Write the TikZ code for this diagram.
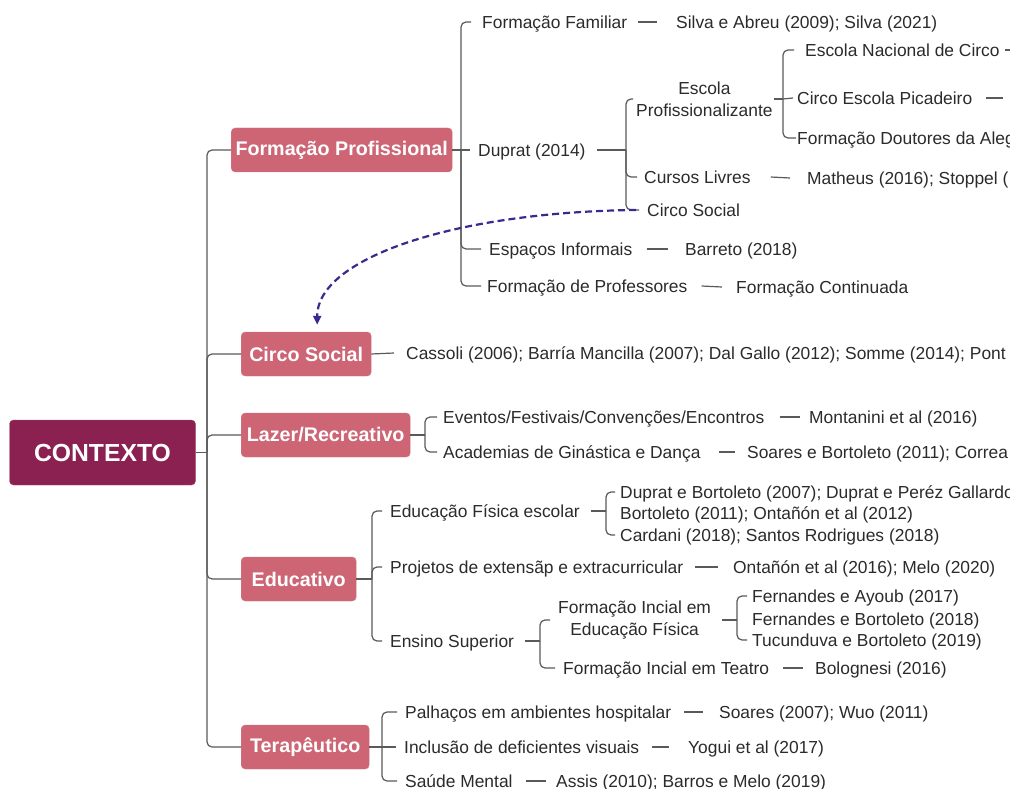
\documentclass[tikz,border=0pt]{standalone}
\usepackage{fontspec}
\setmainfont{Liberation Sans}
\usetikzlibrary{arrows.meta}
\definecolor{rootc}{HTML}{8A2151}
\definecolor{brc}{HTML}{CD6575}
\definecolor{lnc}{HTML}{5A5A5A}
\definecolor{txc}{HTML}{2B2B2B}
\definecolor{arc}{HTML}{3A2A8E}
\begin{document}
\begin{tikzpicture}[x=1pt,y=-1pt,
 txt/.style={anchor=west,inner sep=0pt,text=txc,font=\fontsize{17.4}{22}\selectfont,text height=14.5pt,text depth=1.5pt},
 txttwo/.style={anchor=west,inner sep=0pt,text=txc,font=\fontsize{17.4}{22}\selectfont,align=center},
 rootbox/.style={fill=rootc,draw=rootc!80!white,rounded corners=4pt,text=white,font=\bfseries\fontsize{24.7}{28}\selectfont,minimum width=186pt,minimum height=65pt,inner sep=0pt},
 brbox/.style={fill=brc,draw=brc!85!white,rounded corners=4pt,text=white,font=\bfseries\fontsize{19.7}{22}\selectfont,minimum height=44pt,inner xsep=4pt,anchor=west},
 ln/.style={draw=lnc,line width=1.2pt},
 brk/.style={ln,rounded corners=5pt},
 rel/.style={draw=arc,line width=2.2pt,dash pattern=on 7pt off 4pt,-{Triangle[length=9pt,width=8pt]}}
]
\useasboundingbox (0,0) rectangle (1010,789);
\fill[white] (0,0) rectangle (1010,789);
\clip (0,0) rectangle (1010,789);

% root
\node[rootbox] (root) at (102.5,452.5) {CONTEXTO};
\coordinate (T) at (207,452.5);
\draw[ln] (root.east) -- (T);

% main branches
\node[brbox,minimum width=221pt] (fp) at (231,150) {Formação Profissional};
\node[brbox,minimum width=130pt] (csm) at (241,354) {Circo Social};
\node[brbox,minimum width=169pt] (lz) at (241,435) {Lazer/Recreativo};
\node[brbox,minimum width=115pt] (ed) at (241,579) {Educativo};
\node[brbox,minimum width=128pt] (te) at (241,747) {Terapêutico};
\foreach \b in {fp,csm,lz,ed,te} {\draw[brk] (T) |- (\b.west);}

% Formação Profissional
\coordinate (fpt) at (461,150);
\node[txt] (ff) at (482,22) {Formação Familiar};
\node[txt] (ffc) at (676,22) {Silva e Abreu (2009); Silva (2021)};
\node[txt] (dup) at (478,150) {Duprat (2014)};
\node[txt] (esi) at (489,249) {Espaços Informais};
\node[txt] (esic) at (685,249) {Barreto (2018)};
\node[txt] (fpr) at (487,286) {Formação de Professores};
\node[txt] (fprc) at (736,287) {Formação Continuada};
\draw[ln] (fp.east) -- (fpt);
\draw[brk] (fpt) |- ([xshift=-11]ff.west);
\draw[ln] (fpt) -- ([xshift=-8]dup.west);
\draw[brk] (fpt) |- ([xshift=-8]esi.west);
\draw[brk] (fpt) |- ([xshift=-6]fpr.west);
\draw[ln] ([xshift=11]ff.east) -- ([xshift=-19]ffc.west);
\draw[ln] ([xshift=14]esi.east) -- ([xshift=-17]esic.west);
\draw[ln] ([xshift=14]fpr.east) -- ([xshift=-14]fprc.west);

% Duprat
\coordinate (dpt) at (626,150);
\draw[ln] ([xshift=11]dup.east) -- (dpt);
\node[txttwo] (ep) at (636,99) {Escola\\Profissionalizante};
\node[txt] (cl) at (644,177) {Cursos Livres};
\node[txt] (clc) at (807,178) {Matheus (2016); Stoppel (};
\node[txt] (cs2) at (647,210) {Circo Social};
\draw[brk] (dpt) |- ([xshift=-3]ep.west);
\draw[brk] (dpt) |- ([xshift=-7]cl.west);
\draw[brk] (dpt) |- ([xshift=-8]cs2.west);
\draw[ln] ([xshift=20]cl.east) -- ([xshift=-17]clc.west);

% Escola Profissionalizante
\coordinate (ept) at (783,99);
\draw[ln] ([xshift=1]ep.east) -- (ept);
\node[txt] (enc) at (805,50) {Escola Nacional de Circo};
\node[txt] (cep) at (797,98) {Circo Escola Picadeiro};
\node[txt] (fda) at (797,138) {Formação Doutores da Alegria};
\draw[brk] (ept) |- ([xshift=-11]enc.west);
\draw[ln] (ept) -- ([xshift=-4]cep.west);
\draw[brk] (ept) |- ([xshift=-1]fda.west);
\coordinate (encx) at (1030,50);
\coordinate (cepx) at (1003,98);
\draw[ln] ([xshift=5]enc.east) -- (encx);
\draw[ln] ([xshift=14]cep.east) -- (cepx);

% relation arrow
\draw[rel] ([xshift=-11]cs2.west) .. controls (455,212) and (317,258) .. ([xshift=11,yshift=7]csm.north);

% Circo Social
\node[txt] (csmc) at (406,353) {Cassoli (2006); Barría Mancilla (2007); Dal Gallo (2012); Somme (2014); Pont};
\draw[ln] (csm.east) -- ([xshift=-12]csmc.west);

% Lazer
\coordinate (lzt) at (425,435);
\node[txt] (ev) at (443,417) {Eventos/Festivais/Convenções/Encontros};
\node[txt] (evc) at (809,417) {Montanini et al (2016)};
\node[txt] (ac) at (443,452) {Academias de Ginástica e Dança};
\node[txt] (acc) at (747,452) {Soares e Bortoleto (2011); Correa};
\draw[ln] (lz.east) -- (lzt);
\draw[brk] (lzt) |- ([xshift=-6]ev.west);
\draw[brk] (lzt) |- ([xshift=-6]ac.west);
\draw[ln] ([xshift=15]ev.east) -- ([xshift=-9]evc.west);
\draw[ln] ([xshift=18]ac.east) -- ([xshift=-12]acc.west);

% Educativo
\coordinate (edt) at (372,579);
\node[txt] (efe) at (390,511) {Educação Física escolar};
\node[txt] (pj) at (390,567) {Projetos de extensãp e extracurricular};
\node[txt] (pjc) at (733,567) {Ontañón et al (2016); Melo (2020)};
\node[txt] (ens) at (390,641) {Ensino Superior};
\draw[ln] (ed.east) -- (edt);
\draw[brk] (edt) |- ([xshift=-8]efe.west);
\draw[brk] (edt) |- ([xshift=-8]pj.west);
\draw[brk] (edt) |- ([xshift=-8]ens.west);
\draw[ln] ([xshift=12]pj.east) -- ([xshift=-15]pjc.west);

\coordinate (eft) at (606,511);
\node[txt] (e1) at (620,492) {Duprat e Bortoleto (2007); Duprat e Peréz Gallardo};
\node[txt] (e2) at (620,513) {Bortoleto (2011); Ontañón et al (2012)};
\node[txt] (e3) at (620,535) {Cardani (2018); Santos Rodrigues (2018)};
\draw[ln] ([xshift=11]efe.east) -- (eft);
\draw[brk] (eft) |- ([xshift=-5]e1.west);
\draw[brk] (eft) |- ([xshift=-5]e3.west);

\coordinate (est) at (540,641);
\draw[ln] ([xshift=11]ens.east) -- (est);
\node[txttwo] (fie) at (558,620) {Formação Incial em\\Educação Física};
\node[txt] (fit) at (563,668) {Formação Incial em Teatro};
\node[txt] (fitc) at (815,668) {Bolognesi (2016)};
\draw[brk] (est) |- ([xshift=-8]fie.west);
\draw[brk] (est) |- ([xshift=-8]fit.west);
\draw[ln] ([xshift=14]fit.east) -- ([xshift=-12]fitc.west);

\coordinate (fiet) at (737,620);
\draw[ln] ([xshift=11]fie.east) -- (fiet);
\node[txt] (f1) at (752,596) {Fernandes e Ayoub (2017)};
\node[txt] (f2) at (752,619) {Fernandes e Bortoleto (2018)};
\node[txt] (f3) at (752,640) {Tucunduva e Bortoleto (2019)};
\draw[brk] (fiet) |- ([xshift=-5]f1.west);
\draw[brk] (fiet) |- ([xshift=-5]f3.west);

% Terapêutico
\coordinate (tet) at (382,747);
\node[txt] (p1) at (405,712) {Palhaços em ambientes hospitalar};
\node[txt] (p1c) at (719,712) {Soares (2007); Wuo (2011)};
\node[txt] (p2) at (404,747) {Inclusão de deficientes visuais};
\node[txt] (p2c) at (688,747) {Yogui et al (2017)};
\node[txt] (p3) at (405,781) {Saúde Mental};
\node[txt] (p3c) at (556,781) {Assis (2010); Barros e Melo (2019)};
\draw[ln] (te.east) -- (tet);
\draw[brk] (tet) |- ([xshift=-8]p1.west);
\draw[ln] (tet) -- ([xshift=-8]p2.west);
\draw[brk] (tet) |- ([xshift=-8]p3.west);
\draw[ln] ([xshift=13]p1.east) -- ([xshift=-16]p1c.west);
\draw[ln] ([xshift=13]p2.east) -- ([xshift=-19]p2c.west);
\draw[ln] ([xshift=13]p3.east) -- ([xshift=-10]p3c.west);
\end{tikzpicture}
\end{document}
